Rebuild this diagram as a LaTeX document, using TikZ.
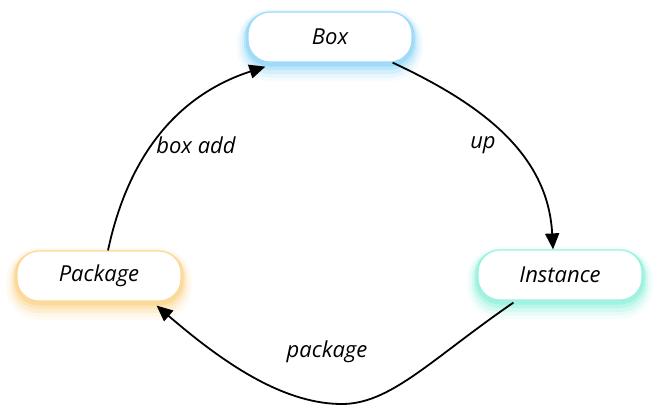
\documentclass[tikz,border=0pt]{standalone}
\usepackage{fontspec}
\setmainfont{Open Sans}
\usetikzlibrary{arrows.meta,calc}
\definecolor{boxblue}{HTML}{4DBDF2}
\definecolor{pkgorange}{HTML}{F7B946}
\definecolor{instteal}{HTML}{4DE6C6}

\begin{document}
\begin{tikzpicture}[x=0.5pt,y=-0.5pt,
  state/.style={draw=#1!55!white, fill=white, line width=0.6pt,
    rounded corners=11pt, minimum width=82pt, minimum height=25pt,
    font=\fontsize{11pt}{13pt}\selectfont\itshape,
    preaction={draw=#1, line width=11pt, opacity=0.06, transform canvas={yshift=-4pt}},
    preaction={draw=#1, line width=8.5pt, opacity=0.08, transform canvas={yshift=-3.5pt}},
    preaction={draw=#1, line width=6pt, opacity=0.12, transform canvas={yshift=-3pt}},
    preaction={draw=#1, line width=4pt, opacity=0.18, transform canvas={yshift=-2pt}},
    preaction={draw=#1, line width=2.5pt, opacity=0.25, transform canvas={yshift=-1pt}}},
  flow/.style={-{Triangle[length=8pt,width=7pt]}, line width=0.9pt},
  lbl/.style={font=\fontsize{11pt}{13pt}\selectfont\itshape}]
\useasboundingbox (0,0) rectangle (658,408);
\node[state=boxblue] (box) at (330,37) {Box};
\node[state=pkgorange] (pkg) at (99,276) {Package};
\node[state=instteal] (inst) at (560,275) {Instance};

% connectors
\draw[flow] ([xshift=4.5pt]pkg.north) to[out=78,in=198] ([xshift=9pt,yshift=-2pt]box.south west);
\draw[flow] ([xshift=-10pt]box.south east) to[out=-25,in=93] ([xshift=-3.5pt]inst.north);
\draw[flow] ([xshift=18pt,yshift=-1pt]inst.south west) .. controls (430,360) and (390,405) .. (340,404)
  .. controls (280,403) and (220,360) .. ([xshift=-12.5pt,yshift=-2pt]pkg.south east);

\node[lbl] (boxadd) at (196,145) {box add};
\node[lbl] (up) at (483,145) {up};
\node[lbl] (package) at (327,352) {package};
\end{tikzpicture}
\end{document}
